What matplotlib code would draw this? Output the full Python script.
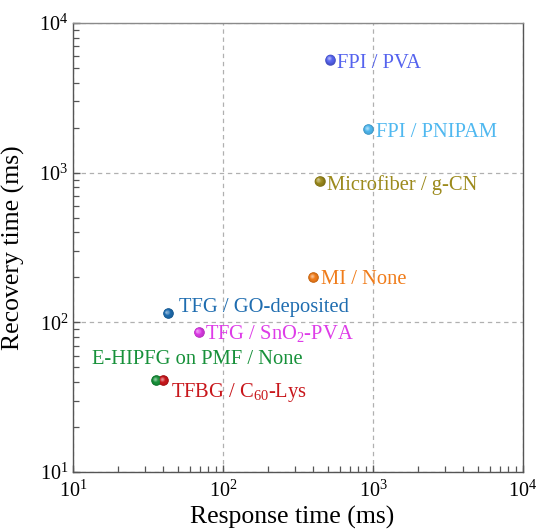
import matplotlib
matplotlib.use("Agg")
import matplotlib.pyplot as plt
import matplotlib.colors as mcolors
from matplotlib.transforms import offset_copy
import numpy as np

plt.rcParams['font.family'] = ['Liberation Serif', 'DejaVu Serif']
plt.rcParams['mathtext.fontset'] = 'custom'
plt.rcParams['mathtext.rm'] = 'Liberation Serif'
plt.rcParams['mathtext.it'] = 'Liberation Serif:italic'
plt.rcParams['mathtext.bf'] = 'Liberation Serif:bold'

# Data
labels = ["FPI / PVA", "FPI / PNIPAM", "Microfiber / g-CN", "MI / None",
          "TFG / GO-deposited", "TFG / SnO$_2$-PVA", "E-HIPFG on PMF / None",
          "TFBG / C$_{60}$-Lys"]
response_ms = [520, 930, 440, 400, 43, 69, 36, 40]
recovery_ms = [5700, 1950, 880, 200, 115, 86, 41, 41]
colors = ["#5563ee", "#4fb8f0", "#9c8a1c", "#f07c1a", "#1f6db0", "#de3ce8",
          "#17913a", "#c8161b"]
# label offsets in pixels (dx right, dy down)
label_offsets_px = [(7, 1), (8, 1), (7, 2), (8, 0), (11, -8), (6, -1), (-64, -23), (8, 9)]

fig = plt.figure(figsize=(5.38, 5.30), dpi=100)
ax = fig.add_axes([73/538, 1-472/530, 450/538, 449/530])
ax.set_xscale('log')
ax.set_yscale('log')
ax.set_xlim(10, 1e4)
ax.set_ylim(10, 1e4)

ax.grid(True, which='major', color='#b0b0b0', linestyle=(0, (3.5, 3)), linewidth=0.9)
ax.set_axisbelow(True)


def sphere(x, y, color, ms=7.6, n=12):
    base = np.array(mcolors.to_rgb(color))
    dark = base * 0.82
    light = base + (1 - base) * 0.5
    for k in range(n):
        f = k / (n - 1)
        size = ms * (1 - 0.85 * f)
        if f < 0.5:
            c = dark * (1 - 2 * f) + base * (2 * f)
        else:
            c = base * (1 - (f - 0.5) * 2) + light * ((f - 0.5) * 2)
        tr = offset_copy(ax.transData, fig=fig, x=-ms * 0.16 * f, y=ms * 0.16 * f, units='points')
        ax.plot([x], [y], 'o', ms=size, color=tuple(np.clip(c, 0, 1)),
                mec='none', transform=tr, zorder=3 + k * 0.01)


for lab, x, y, c, (dx, dy) in zip(labels, response_ms, recovery_ms, colors, label_offsets_px):
    sphere(x, y, c)
    ax.annotate(lab, xy=(x, y), xytext=(dx * 0.72, -dy * 0.72), textcoords='offset points',
                ha='left', va='center_baseline', color=c, fontsize=14.8, zorder=5)

for s in ax.spines.values():
    s.set_color('#555555')
    s.set_linewidth(1.0)
ax.spines['top'].set_color('#8a8a8a')

ax.tick_params(which='both', direction='in', top=False, right=False, colors='#555555',
               labelcolor='black', labelsize=14.5)
ax.tick_params(which='major', length=5, width=1)
ax.tick_params(which='minor', length=4, width=0.9)
ax.tick_params(axis='x', which='major', pad=6)

ax.set_xlabel("Response time (ms)", fontsize=18.5)
ax.set_ylabel("Recovery time (ms)", fontsize=18.5)
ax.xaxis.set_label_coords(0.488, -0.075)
ax.yaxis.set_label_coords(-0.107, 0.5)

fig.savefig("out.png", dpi=100)
